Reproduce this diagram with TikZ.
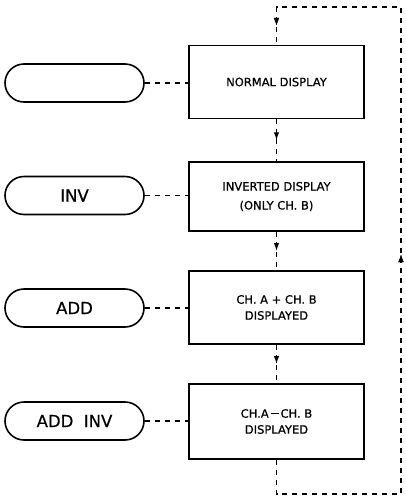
\documentclass[tikz,border=0pt]{standalone}
\usepackage{fontspec}
\setmainfont{DejaVu Sans}[FakeBold=0.7]
\usetikzlibrary{arrows.meta,decorations.markings}
\tikzset{
  stepbox/.style={draw, line width=1.7pt, minimum width=175pt, minimum height=73pt, inner sep=0pt, align=center, font=\fontsize{11.5}{19}\selectfont},
  pill/.style={draw, line width=1.6pt, minimum width=139pt, minimum height=38pt, rounded corners=19pt, inner sep=0pt, font=\fontsize{16.5}{18}\selectfont},
  link/.style={line width=1.2pt, dash pattern=on 5pt off 5pt},
  tip/.style={decoration={markings, mark=at position #1 with {\arrow{Latex[length=8pt,width=5.5pt]}}}, postaction={decorate}},
}
\begin{document}
\begin{tikzpicture}[x=1pt, y=-1pt]
\useasboundingbox (0,0) rectangle (405,496);
\node[stepbox] (b1) at (276.5,82) {NORMAL DISPLAY};
\node[stepbox, minimum height=69pt] (b2) at (276.5,196.5) {INVERTED DISPLAY\\(ONLY CH. B)};
\node[stepbox, font=\fontsize{11.5}{16}\selectfont] (b3) at (276.5,307.5) {CH. A + CH. B\\DISPLAYED};
\node[stepbox, minimum height=75pt, font=\fontsize{11.5}{16}\selectfont] (b4) at (276.5,421.5) {CH.A\,\rule[3.4pt]{8pt}{1.3pt}\,CH. B\\DISPLAYED};
\node[pill] (p1) at (74.5,83) {};
\node[pill] (p2) at (74.5,195.5) {INV};
\node[pill] (p3) at (74.5,308) {ADD};
\node[pill] (p4) at (74.5,421) {ADD\ \ INV};
\foreach \i in {1,2,3,4} {\draw[link] (p\i.east) -- (p\i.east -| b\i.west);}
\draw[link, tip=0.5] (b1.south) -- (b2.north);
\draw[link, tip=0.5] (b2.south) -- (b3.north);
\draw[link, tip=0.5] (b3.south) -- (b4.north);
\coordinate (c1) at (276.5,494);
\coordinate (c2) at (401,494);
\coordinate (c3) at (401,7);
\coordinate (c4) at (276.5,7);
\draw[link, tip=398.5pt, tip=789pt] (b4.south) -- (c1) -- (c2) -- (c3) -- (c4) -- (b1.north);
\end{tikzpicture}
\end{document}
